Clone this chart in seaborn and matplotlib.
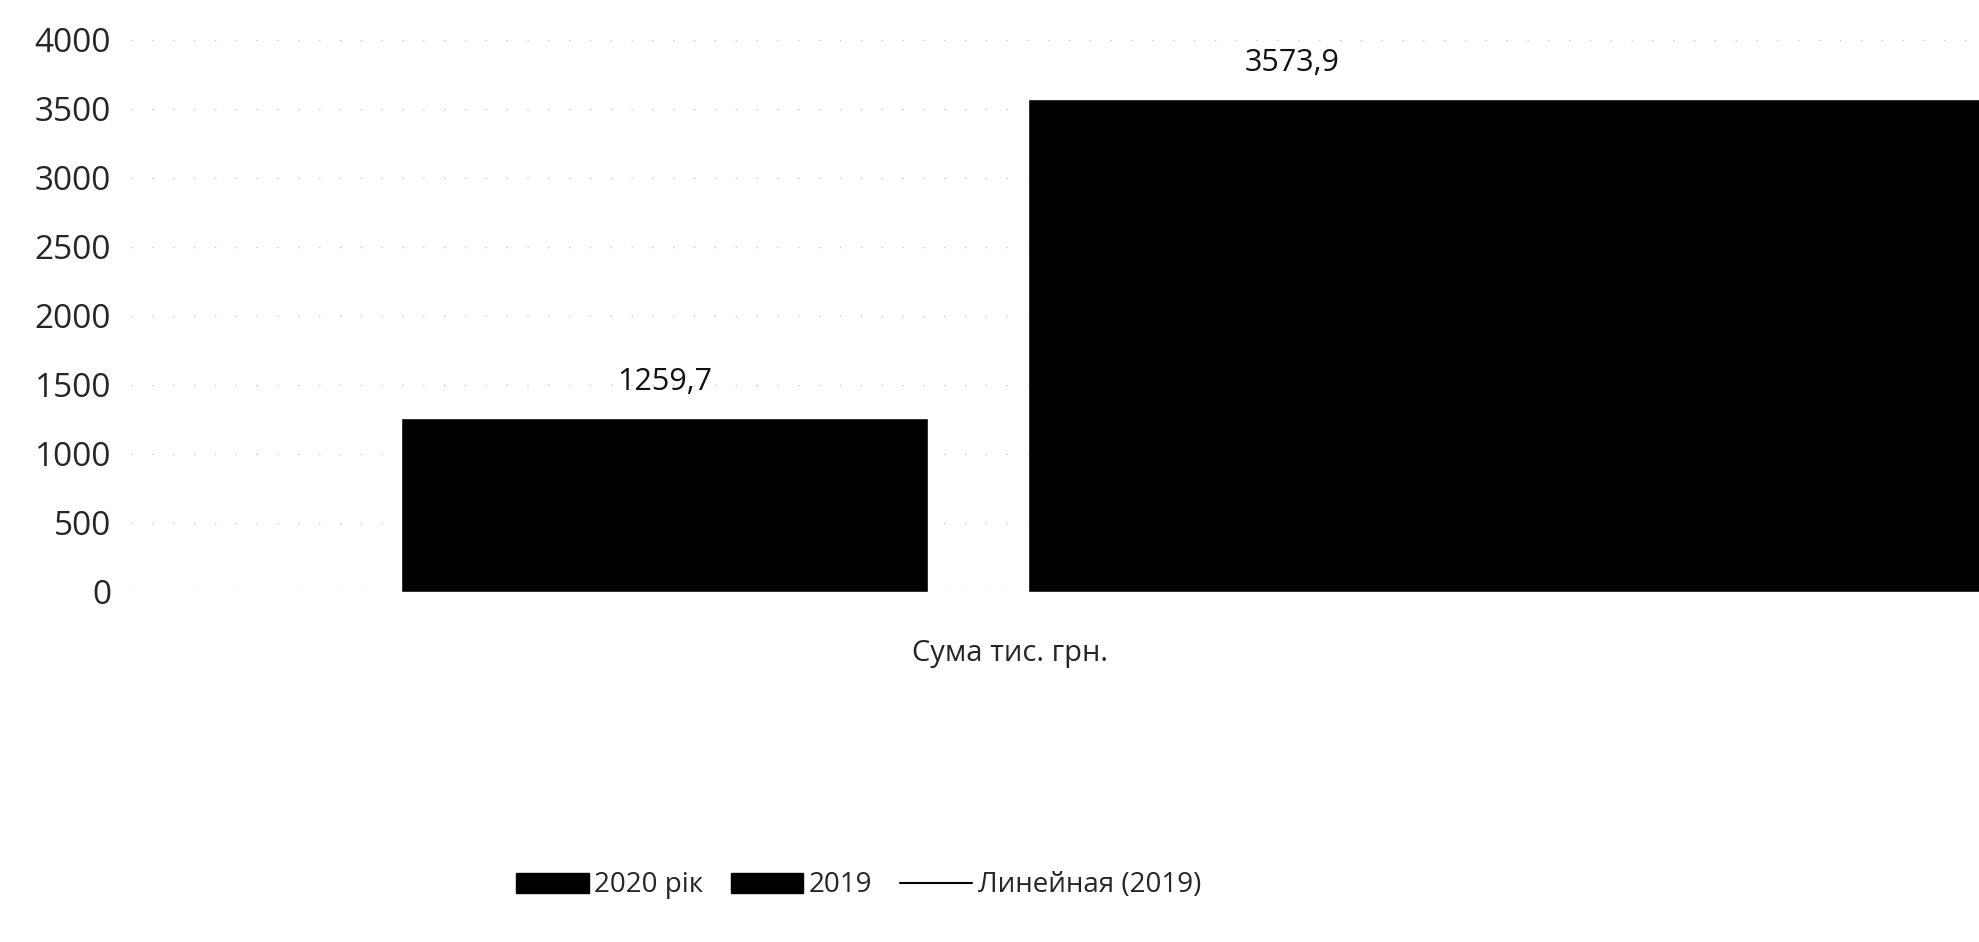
import seaborn as sns
import matplotlib.pyplot as plt
from matplotlib.patches import Patch
from matplotlib.lines import Line2D

# values
series = ["2020 рік", "2019"]
values = [1259.7, 3573.9]
value_labels = ["1259,7", "3573,9"]
y_ticks = [0, 500, 1000, 1500, 2000, 2500, 3000, 3500, 4000]
x_title = "Сума тис. грн."
trend_label = "Линейная (2019)"


def plot_amounts(output: str) -> None:
    sns.set_style("white")
    plt.rcParams["font.family"] = ["Open Sans", "DejaVu Sans"]

    fig = plt.figure(figsize=(19.79, 9.42), dpi=100)
    ax = fig.add_axes([0.066, 0.3716, 0.934, 0.586])

    sns.barplot(
        x=series,
        y=values,
        hue=series,
        palette=["black", "black"],
        width=0.84,
        legend=False,
        ax=ax,
    )

    # the 2019 bar runs off the right edge in the reference
    ax.patches[1].set_width(1.6)

    for i, (v, lab) in enumerate(zip(values, value_labels)):
        ax.annotate(lab, (i, v), xytext=(0, 15), textcoords="offset points",
                    ha="center", va="bottom", fontsize=22, color="#111111")

    ax.set_xlim(-0.85, 2.094)
    ax.set_ylim(0, 4000)
    ax.set_yticks(y_ticks)
    ax.set_yticklabels([str(t) for t in y_ticks], fontsize=24)
    ax.tick_params(axis="y", length=0, pad=14)
    ax.set_xticks([])

    ax.yaxis.grid(True, color="#c8c8c8", linestyle=(0, (1, 14)), linewidth=1)
    ax.set_axisbelow(True)
    sns.despine(ax=ax, left=True, bottom=True)

    ax.set_xlabel(x_title, fontsize=21)
    ax.xaxis.set_label_coords(0.476, -0.085)
    ax.set_ylabel("")

    handles = [
        Patch(facecolor="black", edgecolor="black", label=series[0]),
        Patch(facecolor="black", edgecolor="black", label=series[1]),
        Line2D([0], [0], color="black", linewidth=1.5, label=trend_label),
    ]
    fig.legend(handles=handles, loc="center", bbox_to_anchor=(0.434, 0.06),
               ncol=3, frameon=False, fontsize=20, handlelength=2.6,
               handleheight=0.75, handletextpad=0.2, columnspacing=1.0)

    fig.savefig(output, dpi=100)
    plt.close(fig)


if __name__ == "__main__":
    plot_amounts("out.png")
